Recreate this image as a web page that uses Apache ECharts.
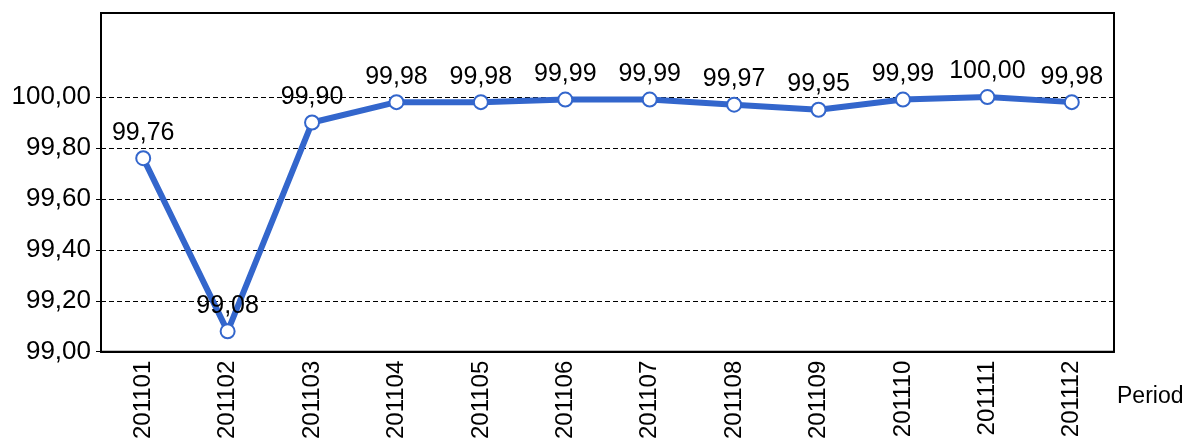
<!DOCTYPE html>
<html>
<head>
<meta charset="utf-8">
<script src="https://cdn.jsdelivr.net/npm/echarts@6/dist/echarts.min.js"></script>
<style>
  html, body { margin: 0; padding: 0; background: #fff; }
  #main { width: 1186px; height: 442px; }
</style>
</head>
<body>
<div id="main"></div>
<script>
const periods = ['201101', '201102', '201103', '201104', '201105', '201106',
                 '201107', '201108', '201109', '201110', '201111', '201112']
const values = [99.76, 99.08, 99.90, 99.98, 99.98, 99.99, 99.99, 99.97, 99.95, 99.99, 100.00, 99.98]
const yTicks = [99.0, 99.2, 99.4, 99.6, 99.8, 100.0]
const yMin = 99.0, yMax = 100.33

const fmt = v => Number(v).toFixed(2).replace('.', ',') // comma decimal
const font = 'Liberation Sans, Arial, sans-serif'

const myChart = echarts.init(document.getElementById('main'))

let option = {
    animation: false,
    grid: {
        left: 101, right: 72, top: 13, bottom: 89,
        show: true,
        borderColor: '#000',
        borderWidth: 2
    },
    graphic: [{
        type: 'text',
        left: 1117,
        top: 385,
        style: { text: 'Period', fill: '#000', fontSize: 23, fontFamily: font }
    }],
    xAxis: {
        type: 'category',
        data: periods,
        boundaryGap: true,
        axisLine: { lineStyle: { color: '#000', width: 2 } },
        axisTick: { show: false },
        axisLabel: {
            rotate: 90,
            margin: 9,
            color: '#000',
            fontSize: 24,
            fontFamily: font
        }
    },
    yAxis: {
        type: 'value',
        min: yMin,
        max: yMax,
        axisLine: { show: true, lineStyle: { color: '#000', width: 2 } },
        axisTick: { show: true, length: 5, customValues: yTicks, lineStyle: { color: '#000' } },
        axisLabel: {
            margin: 10,
            color: '#000',
            fontSize: 26,
            fontFamily: font,
            customValues: yTicks,
            formatter: v => fmt(v)
        },
        splitLine: {
            show: true,
            lineStyle: { color: '#000', type: [5, 3], width: 1 }
        }
    },
    series: [{
        name: 'value',
        type: 'line',
        data: values,
        symbol: 'emptyCircle',
        symbolSize: 14,
        lineStyle: { color: '#3366CC', width: 6 },
        itemStyle: { color: '#3366CC', borderWidth: 3 },
        label: {
            show: true,
            position: 'top',
            distance: 5,
            color: '#000',
            fontSize: 25,
            fontFamily: font,
            formatter: p => fmt(p.value)
        }
    }]
}

myChart.setOption(option)
</script>
</body>
</html>
